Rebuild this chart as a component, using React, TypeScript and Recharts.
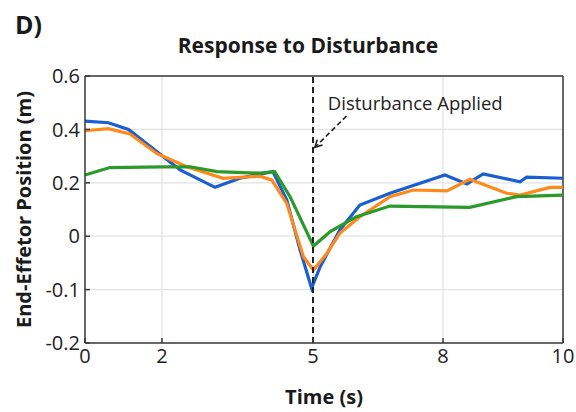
import React from 'react';
import { LineChart, Line, XAxis, YAxis, CartesianGrid, ReferenceLine, ReferenceDot } from 'recharts';

// time axis ticks sit where the original figure put them (not evenly spaced)
const X_TICKS = [0, 1.61, 4.77, 7.49, 10];
const X_LABELS = ['0', '2', '5', '8', '10'];
const Y_TICKS = [-0.4, -0.2, 0, 0.2, 0.4, 0.6];
const Y_LABELS = ['-0.2', '-0.1', '0', '0.2', '0.4', '0.6'];

const DISTURBANCE_T = 4.77;

const TIME_BLUE = [0, 0.49, 0.91, 1.5, 1.99, 2.72, 3.24, 3.93, 4.22, 4.5, 4.74, 4.92, 5.33, 5.75, 6.38, 7.53, 7.99, 8.33, 9.1, 9.24, 10];
const POS_BLUE = [0.431, 0.425, 0.4, 0.317, 0.248, 0.183, 0.217, 0.242, 0.136, -0.052, -0.195, -0.114, 0.023, 0.117, 0.161, 0.229, 0.196, 0.233, 0.204, 0.221, 0.217];

const TIME_ORANGE = [0, 0.49, 0.94, 1.5, 2.13, 2.89, 3.66, 3.91, 4.22, 4.57, 4.78, 5.06, 5.33, 5.75, 6.38, 6.87, 7.57, 8.05, 8.82, 9.1, 9.73, 10];
const POS_ORANGE = [0.395, 0.403, 0.383, 0.31, 0.26, 0.217, 0.225, 0.21, 0.123, -0.077, -0.127, -0.064, 0.011, 0.073, 0.148, 0.173, 0.17, 0.213, 0.161, 0.154, 0.183, 0.183];

const TIME_GREEN = [0, 0.52, 1.64, 2.2, 2.76, 3.66, 3.97, 4.29, 4.78, 5.13, 5.68, 6.38, 8.05, 9.03, 10];
const POS_GREEN = [0.229, 0.257, 0.26, 0.26, 0.242, 0.236, 0.242, 0.148, -0.037, 0.017, 0.073, 0.113, 0.108, 0.148, 0.154];

const toRows = (t: number[], y: number[]) => t.map((x, i) => ({ t: x, y: y[i] }));

const FONT = '"Open Sans", "Noto Sans", sans-serif';
const AXIS = '#3a3a3a';

const Arrow = (p: any) => {
  const { x1, y1, x2, y2 } = p;
  const ang = Math.atan2(y2 - y1, x2 - x1);
  const L = 8;
  const a1 = ang + Math.PI - 0.5;
  const a2 = ang + Math.PI + 0.5;
  return (
    <g>
      <line x1={x1} y1={y1} x2={x2} y2={y2} stroke="#222" strokeWidth={1.6} strokeDasharray="5 3" />
      <path
        d={`M${x2 + L * Math.cos(a1)},${y2 + L * Math.sin(a1)} L${x2},${y2} L${x2 + L * Math.cos(a2)},${y2 + L * Math.sin(a2)}`}
        fill="none"
        stroke="#222"
        strokeWidth={1.6}
      />
    </g>
  );
};

const AnnotationText = (p: any) => (
  <text x={p.cx} y={p.cy} fontFamily={FONT} fontSize={18.5} fill="#222">
    Disturbance Applied
  </text>
);

export default function App() {
  return (
    <div style={{ position: 'absolute', left: 0, top: 0, width: 576, height: 412, background: '#fff', fontFamily: FONT }}>
      <div style={{ position: 'absolute', left: 15, top: 7, fontSize: 25, fontWeight: 700, color: '#1a1a1a' }}>D)</div>
      <div style={{ position: 'absolute', left: 85, width: 446, top: 31, textAlign: 'center', fontSize: 21, fontWeight: 700, color: '#1a1a1a' }}>
        Response to Disturbance
      </div>
      <LineChart width={576} height={412} margin={{ top: 76, right: 13, bottom: 0, left: 0 }}>
        <CartesianGrid stroke="#e2e2e2" strokeWidth={1.2} horizontalValues={Y_TICKS} verticalValues={X_TICKS} />
        <XAxis
          dataKey="t"
          type="number"
          domain={[0, 10]}
          ticks={X_TICKS}
          tickFormatter={(v: number) => X_LABELS[X_TICKS.indexOf(v)]}
          height={69}
          tickSize={-5}
          tickLine={{ stroke: AXIS, strokeWidth: 1.5 }}
          axisLine={{ stroke: AXIS, strokeWidth: 1.5 }}
          tick={{ fill: '#222', fontSize: 20, fontWeight: 500, fontFamily: FONT }}
          tickMargin={11}
          allowDuplicatedCategory={false}
          label={{ value: 'Time (s)', position: 'insideBottom', offset: 8, style: { fontSize: 20, fontWeight: 700, fill: '#1a1a1a', fontFamily: FONT } }}
        />
        <YAxis
          type="number"
          domain={[-0.4, 0.6]}
          ticks={Y_TICKS}
          tickFormatter={(v: number) => Y_LABELS[Y_TICKS.indexOf(v)]}
          width={85}
          tickSize={-5}
          tickLine={{ stroke: AXIS, strokeWidth: 1.5 }}
          axisLine={{ stroke: AXIS, strokeWidth: 1.5 }}
          tick={{ fill: '#222', fontSize: 20, fontWeight: 500, fontFamily: FONT }}
          tickMargin={10}
          label={{ value: 'End-Effetor Position (m)', angle: -90, position: 'insideLeft', offset: 24, style: { textAnchor: 'middle', fontSize: 20, fontWeight: 700, fill: '#1a1a1a', fontFamily: FONT } }}
        />
        <ReferenceLine y={0.6} stroke={AXIS} strokeWidth={1.5} />
        <ReferenceLine x={10} stroke={AXIS} strokeWidth={1.5} />
        <Line data={toRows(TIME_BLUE, POS_BLUE)} dataKey="y" type="linear" stroke="#1a5fd1" strokeWidth={3.2} dot={false} isAnimationActive={false} />
        <Line data={toRows(TIME_ORANGE, POS_ORANGE)} dataKey="y" type="linear" stroke="#ff8a1c" strokeWidth={3.2} dot={false} isAnimationActive={false} />
        <Line data={toRows(TIME_GREEN, POS_GREEN)} dataKey="y" type="linear" stroke="#2a9a2a" strokeWidth={3.2} dot={false} isAnimationActive={false} />
        <ReferenceLine x={DISTURBANCE_T} stroke="#222" strokeWidth={2} strokeDasharray="6 4" />
        <ReferenceLine
          segment={[{ x: 5.47, y: 0.45 }, { x: 4.81, y: 0.333 }]}
          shape={Arrow}
        />
        <ReferenceDot x={5.08} y={0.473} r={0} shape={AnnotationText} />
      </LineChart>
    </div>
  );
}
